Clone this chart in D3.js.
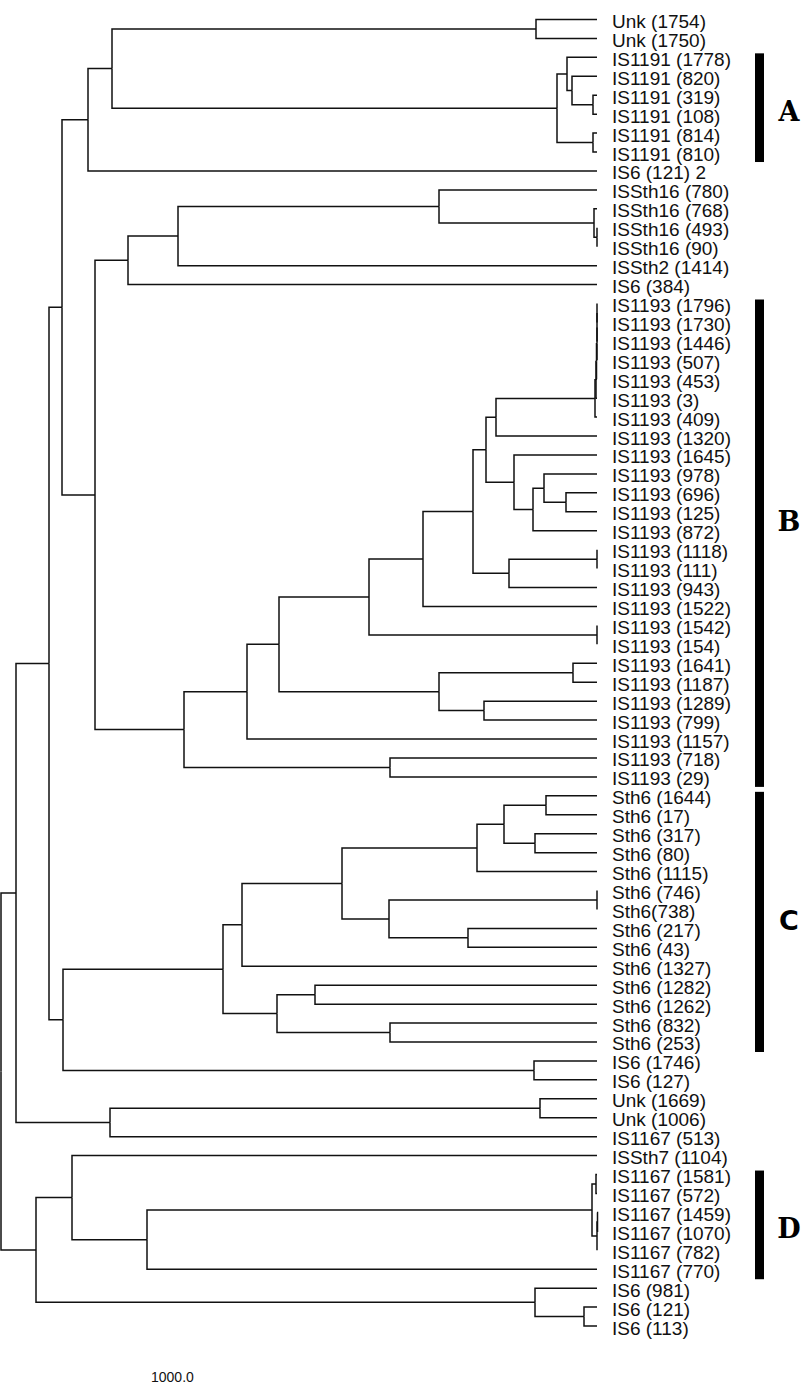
<!DOCTYPE html>
<html>
<head>
<meta charset="utf-8">
<script src="https://cdnjs.cloudflare.com/ajax/libs/d3/7.8.5/d3.min.js"></script>
<style>
  body { margin: 0; background: #fff; }
  svg { display: block; }
  .branch { fill: none; stroke: #111; stroke-width: 1.5px; }
  .leaf { font: 19px "Liberation Sans", Arial, sans-serif; fill: #111; }
  .grp { font-size: 27px; font-weight: bold; fill: #000; }
  .scale { font: 14px "Liberation Sans", Arial, sans-serif; fill: #111; }
</style>
</head>
<body>
<script>
// leaf labels, top to bottom
var leaves = [
  "Unk (1754)", "Unk (1750)",
  "IS1191 (1778)", "IS1191 (820)", "IS1191 (319)", "IS1191 (108)", "IS1191 (814)", "IS1191 (810)",
  "IS6 (121) 2",
  "ISSth16 (780)", "ISSth16 (768)", "ISSth16 (493)", "ISSth16 (90)", "ISSth2 (1414)", "IS6 (384)",
  "IS1193 (1796)", "IS1193 (1730)", "IS1193 (1446)", "IS1193 (507)", "IS1193 (453)", "IS1193 (3)",
  "IS1193 (409)", "IS1193 (1320)", "IS1193 (1645)", "IS1193 (978)", "IS1193 (696)", "IS1193 (125)",
  "IS1193 (872)", "IS1193 (1118)", "IS1193 (111)", "IS1193 (943)", "IS1193 (1522)", "IS1193 (1542)",
  "IS1193 (154)", "IS1193 (1641)", "IS1193 (1187)", "IS1193 (1289)", "IS1193 (799)", "IS1193 (1157)",
  "IS1193 (718)", "IS1193 (29)",
  "Sth6 (1644)", "Sth6 (17)", "Sth6 (317)", "Sth6 (80)", "Sth6 (1115)", "Sth6 (746)", "Sth6(738)",
  "Sth6 (217)", "Sth6 (43)", "Sth6 (1327)", "Sth6 (1282)", "Sth6 (1262)", "Sth6 (832)", "Sth6 (253)",
  "IS6 (1746)", "IS6 (127)",
  "Unk (1669)", "Unk (1006)", "IS1167 (513)", "ISSth7 (1104)",
  "IS1167 (1581)", "IS1167 (572)", "IS1167 (1459)", "IS1167 (1070)", "IS1167 (782)", "IS1167 (770)",
  "IS6 (981)", "IS6 (121)", "IS6 (113)"
];

// distance of each leaf from the root (all tips aligned)
var tipDepth = 596;

// internal nodes: [id, distance from root, children] ; numbers = leaf index
var nodes = [
  ["root", 0, ["n16", "n36"]],
  ["n16", 15, ["n49", "n110"]],
  ["n49", 48, ["n62", "n63"]],
  ["n62", 61, ["n88", "n95"]],
  ["n88", 87, ["n112", 8]],
  ["n112", 111, ["nUnk1", "nA"]],
  ["nUnk1", 535, [0, 1]],
  ["nA", 556, ["nA1", "nA4"]],
  ["nA1", 566, [2, "nA2"]],
  ["nA2", 571, [3, "nA3"]],
  ["nA3", 592, [4, 5]],
  ["nA4", 592, [6, 7]],
  ["n95", 94, ["n128", "n184"]],
  ["n128", 127, ["n178", 14]],
  ["n178", 177, ["n439", 13]],
  ["n439", 438, [9, "nS16"]],
  ["nS16", 593, [10, "nS16b"]],
  ["nS16b", 596, [11, 12]],
  ["n184", 183, ["n247", "n390b"]],
  ["n390b", 389, [39, 40]],
  ["n247", 246, ["n279", 38]],
  ["n279", 278, ["n369", "n441"]],
  ["n369", 368, ["n423", "n597c"]],
  ["n597c", 596, [32, 33]],
  ["n423", 422, ["n473", 31]],
  ["n473", 472, ["n486", "n509"]],
  ["n509", 508, ["n597d", 30]],
  ["n597d", 596, [28, 29]],
  ["n486", 485, ["n496", "n514"]],
  ["n496", 495, ["nX0", 22]],
  ["nX0", 594, ["nX1", 21]],
  ["nX1", 595, ["nX2", 20]],
  ["nX2", 595.5, ["nX3", 19]],
  ["nX3", 596, ["nX4", 18]],
  ["nX4", 596, ["nX5", 17]],
  ["nX5", 596, [15, 16]],
  ["n514", 513, [23, "n533"]],
  ["n533", 532, ["n544", 27]],
  ["n544", 543, [24, "n566"]],
  ["n566", 565, [25, 26]],
  ["n441", 438, ["n573", "n484"]],
  ["n573", 572, [34, 35]],
  ["n484", 483, [36, 37]],
  ["n63", 62, ["n223", "n534"]],
  ["n534", 533, [55, 56]],
  ["n223", 222, ["n242", "n277"]],
  ["n242", 241, ["n342", 50]],
  ["n342", 341, ["n477", "n389"]],
  ["n477", 476, ["n504", 45]],
  ["n504", 503, ["n546", "n535"]],
  ["n546", 545, [41, 42]],
  ["n535", 534, [43, 44]],
  ["n389", 388, ["n597e", "n468"]],
  ["n597e", 596, [46, 47]],
  ["n468", 467, [48, 49]],
  ["n277", 276, ["n315", "n390c"]],
  ["n315", 314, [51, 52]],
  ["n390c", 389, [53, 54]],
  ["n110", 109, ["n540", 59]],
  ["n540", 539, [57, 58]],
  ["n36", 35, ["n72", "n535b"]],
  ["n72", 71, [60, "n147"]],
  ["n147", 146, ["nD0", 66]],
  ["nD0", 591, ["nD1", "nD2"]],
  ["nD1", 595, [61, 62]],
  ["nD2", 596, ["nD3", 65]],
  ["nD3", 596.5, [63, 64]],
  ["n535b", 534, [67, "n584"]],
  ["n584", 583, [68, 69]]
];

// clade bars: [label, first leaf, last leaf]
var groups = [
  ["A", 2, 7],
  ["B", 15, 40],
  ["C", 41, 54],
  ["D", 61, 66]
];

var scaleLabel = "1000.0";

var W = 802, H = 1387;
var top0 = 10, bottom0 = 1335.5;
var tipX = 597;

var svg = d3.select("body").append("svg")
    .attr("width", W)
    .attr("height", H);

// build nested object for d3.hierarchy
var byId = {};
nodes.forEach(function(n) { byId[n[0]] = n; });
function build(ref) {
  if (typeof ref === "number") return { name: leaves[ref], depth: tipDepth, leaf: ref };
  var n = byId[ref];
  return { name: n[0], depth: n[1], children: n[2].map(build) };
}
var root = d3.hierarchy(build("root"));

// vertical placement by d3.cluster (even leaf spacing, parents at midpoints)
var cluster = d3.cluster()
    .size([bottom0 - top0, 1])
    .separation(function() { return 1; });
cluster(root);

var x = d3.scaleLinear().domain([0, tipDepth]).range([1, tipX]);
function py(d) { return top0 + d.x; }
function px(d) { return x(d.data.depth); }

// elbow links
svg.append("g").selectAll("path")
    .data(root.links())
  .enter().append("path")
    .attr("class", "branch")
    .attr("d", function(l) {
      return "M" + px(l.source) + "," + py(l.source) +
             "V" + py(l.target) + "H" + px(l.target);
    });

// leaf labels
var leafNodes = root.leaves();
svg.append("g").selectAll("text")
    .data(leafNodes)
  .enter().append("text")
    .attr("class", "leaf")
    .attr("x", tipX + 15)
    .attr("y", function(d) { return py(d) + 8.5; })
    .text(function(d) { return d.data.name; });

var leafY = {};
leafNodes.forEach(function(d) { leafY[d.data.leaf] = py(d); });

// clade bars and letters
var letterShift = { A: 3, B: -23, C: -2, D: 3 };
var g = svg.append("g");
groups.forEach(function(gr) {
  var y1 = leafY[gr[1]] - 4, y2 = leafY[gr[2]] + 10;
  g.append("rect")
    .attr("x", 755)
    .attr("y", y1)
    .attr("width", 9)
    .attr("height", y2 - y1)
    .attr("fill", "#000");
  g.append("text")
    .attr("class", "grp")
    .style("font-family", gr[0] === "C" ? "'DejaVu Sans', sans-serif" : "'DejaVu Serif', serif")
    .attr("x", 789)
    .attr("y", (y1 + y2) / 2 + letterShift[gr[0]] + 3)
    .attr("text-anchor", "middle")
    .attr("dominant-baseline", "middle")
    .text(gr[0]);
});

svg.append("text")
    .attr("class", "scale")
    .attr("x", 151)
    .attr("y", 1382)
    .text(scaleLabel);
</script>
</body>
</html>
